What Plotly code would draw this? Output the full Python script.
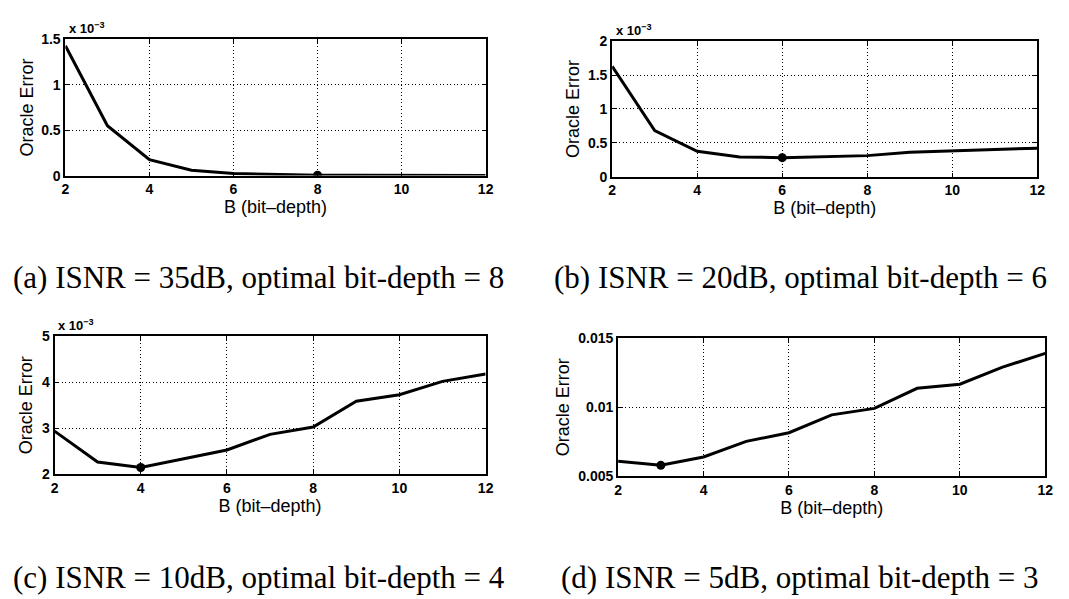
import plotly.graph_objects as go

B = [2, 3, 4, 5, 6, 7, 8, 9, 10, 11, 12]

err_a = [1.43e-3, 0.55e-3, 0.175e-3, 0.06e-3, 0.022e-3, 0.009e-3, 0.004e-3, 0.003e-3, 0.002e-3, 0.002e-3, 0.002e-3]
err_b = [1.63e-3, 0.68e-3, 0.375e-3, 0.29e-3, 0.28e-3, 0.29e-3, 0.31e-3, 0.36e-3, 0.385e-3, 0.40e-3, 0.42e-3]
err_c = [2.94e-3, 2.27e-3, 2.15e-3, 2.34e-3, 2.53e-3, 2.87e-3, 3.03e-3, 3.59e-3, 3.73e-3, 4.02e-3, 4.18e-3]
err_d = [0.0061, 0.0058, 0.0064, 0.00753, 0.00816, 0.00945, 0.00992, 0.01137, 0.01167, 0.0129, 0.0139]

opt_b = [8, 6, 4, 3]

x_ticks = [2, 4, 6, 8, 10, 12]
y_ticks_a = [0, 0.5e-3, 1.0e-3, 1.5e-3]
y_text_a = ["0", "0.5", "1", "1.5"]
y_ticks_b = [0, 0.5e-3, 1.0e-3, 1.5e-3, 2.0e-3]
y_text_b = ["0", "0.5", "1", "1.5", "2"]
y_ticks_c = [2e-3, 3e-3, 4e-3, 5e-3]
y_text_c = ["2", "3", "4", "5"]
y_ticks_d = [0.005, 0.01, 0.015]
y_text_d = ["0.005", "0.01", "0.015"]

captions = [
    "(a) ISNR = 35dB, optimal bit-depth = 8",
    "(b) ISNR = 20dB, optimal bit-depth = 6",
    "(c) ISNR = 10dB, optimal bit-depth = 4",
    "(d) ISNR = 5dB, optimal bit-depth = 3",
]

W, H = 1069, 599

panels = [
    (err_a, y_ticks_a, y_text_a, [0, 1.5e-3], (54, 479, 24, 164), True, 3),
    (err_b, y_ticks_b, y_text_b, [0, 2.0e-3], (607, 1037, 26, 165), True, 4),
    (err_c, y_ticks_c, y_text_c, [2e-3, 5e-3], (43, 479, 329, 471), True, 5),
    (err_d, y_ticks_d, y_text_d, [0.005, 0.015], (613, 1045, 331, 473), False, 4),
]

fig = go.Figure()
layout = dict(
    width=W, height=H,
    margin=dict(l=0, r=0, t=0, b=0),
    paper_bgcolor="white", plot_bgcolor="white",
    showlegend=False,
)
annotations = []
tick_font = dict(family="Liberation Sans, Arial", size=14, color="black")
title_font = dict(family="Liberation Sans, Arial", size=18, color="black")
grid_dash = "1px,2.5px"

for i, (ys, yt, ytx, yr, (px0, px1, py0, py1), expo, ystand) in enumerate(panels):
    n = "" if i == 0 else str(i + 1)
    xa, ya = "x" + n, "y" + n
    fig.add_trace(go.Scatter(x=B, y=ys, mode="lines", xaxis=xa, yaxis=ya,
                             line=dict(color="black", width=3), hoverinfo="skip"))
    k = B.index(opt_b[i])
    fig.add_trace(go.Scatter(x=[opt_b[i]], y=[ys[k]], mode="markers", xaxis=xa, yaxis=ya,
                             marker=dict(color="black", size=9), hoverinfo="skip"))
    dx = [px0 / W, px1 / W]
    dy = [1 - py1 / H, 1 - py0 / H]
    layout["xaxis" + n] = dict(
        domain=dx, range=[2, 12], anchor=ya, tickvals=x_ticks,
        ticktext=[f"<b>{v}</b>" for v in x_ticks],
        showline=True, linecolor="black", linewidth=2, mirror="ticks",
        ticks="inside", ticklen=4, tickcolor="black",
        showgrid=True, gridcolor="black", griddash=grid_dash, gridwidth=1,
        zeroline=False, tickfont=tick_font, ticklabelstandoff=0,
        title=dict(text="B (bit\u2013depth)", font=title_font, standoff=0),
    )
    layout["yaxis" + n] = dict(
        domain=dy, range=yr, anchor=xa, tickvals=yt,
        ticktext=[f"<b>{v}</b>" for v in ytx],
        showline=True, linecolor="black", linewidth=2, mirror="ticks",
        ticks="inside", ticklen=4, tickcolor="black",
        showgrid=True, gridcolor="black", griddash=grid_dash, gridwidth=1,
        zeroline=False, tickfont=tick_font, ticklabelstandoff=0,
        title=dict(text="Oracle Error", font=title_font, standoff=ystand),
    )
    if expo:
        annotations.append(dict(
            x=(px0 + 2) / W, y=1 - (py0 - 1) / H, xref="paper", yref="paper",
            xanchor="left", yanchor="bottom", showarrow=False,
            text="<b>x 10<sup>\u22123</sup></b>",
            font=dict(family="Liberation Sans, Arial", size=13, color="black"),
        ))

cap_pos = [(-1 / W, 1 - 269 / H), (546 / W, 1 - 269 / H), (-1 / W, 1 - 577 / H), (553 / W, 1 - 577 / H)]
for txt, (cx, cy) in zip(captions, cap_pos):
    annotations.append(dict(
        x=cx, y=cy, xref="paper", yref="paper", xanchor="left", yanchor="middle",
        showarrow=False, text=txt,
        font=dict(family="Liberation Serif, DejaVu Serif", size=31, color="black"),
    ))

layout["annotations"] = annotations
fig.update_layout(**layout)
fig.write_html("out.html")
